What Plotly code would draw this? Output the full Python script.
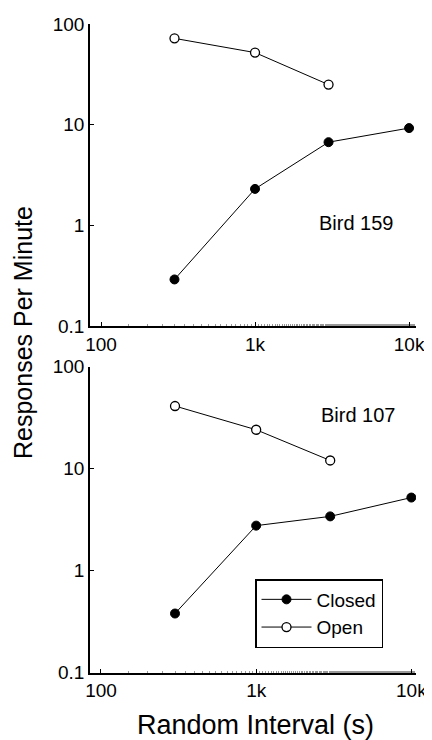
import plotly.graph_objects as go

intervals = [300, 1000, 3000, 10000]
open_intervals = [300, 1000, 3000]

bird159_closed = [0.29, 2.3, 6.7, 9.25]
bird159_open = [72, 52, 25]
bird107_closed = [0.38, 2.76, 3.4, 5.2]
bird107_open = [41, 24, 12]

x_ticks = [100, 1000, 10000]
x_ticklabels = ["100", "1k", "10k"]
y_ticks = [0.1, 1, 10, 100]
y_ticklabels = ["0.1", "1", "10", "100"]

FONT = "Liberation Sans, Arial, sans-serif"
W, H = 432, 740
OFF = 8  # page offset of the figure inside the browser window
L, R, T, B = 90 - OFF, W - (416 - OFF), 0, 0

fig = go.Figure()

closed_style = dict(mode="lines+markers", line=dict(color="black", width=1),
                    marker=dict(symbol="circle", size=9, color="black",
                                line=dict(color="black", width=1)))
open_style = dict(mode="lines+markers", line=dict(color="black", width=1),
                  marker=dict(symbol="circle", size=9, color="white",
                              line=dict(color="black", width=1.3)))

fig.add_trace(go.Scatter(x=intervals, y=bird159_closed, name="Closed",
                         showlegend=False, xaxis="x", yaxis="y", **closed_style))
fig.add_trace(go.Scatter(x=open_intervals, y=bird159_open, name="Open",
                         showlegend=False, xaxis="x", yaxis="y", **open_style))
fig.add_trace(go.Scatter(x=intervals, y=bird107_closed, name="Closed",
                         showlegend=True, xaxis="x2", yaxis="y2", **closed_style))
fig.add_trace(go.Scatter(x=open_intervals, y=bird107_open, name="Open",
                         showlegend=True, xaxis="x2", yaxis="y2", **open_style))

def xaxis(rng, anchor):
    return dict(type="log", range=rng, domain=[0, 1], anchor=anchor,
                tickvals=x_ticks, ticktext=x_ticklabels, automargin=False,
                ticks="inside", ticklen=4, tickwidth=1, tickcolor="black",
                showline=True, linecolor="black", linewidth=1.5,
                showgrid=False, zeroline=False,
                minor=dict(ticks="inside", ticklen=2, tickcolor="#999", tickwidth=1),
                tickfont=dict(family=FONT, size=19, color="black"))

def yaxis(dom, anchor):
    return dict(type="log", range=[-1, 2], domain=dom, anchor=anchor,
                tickvals=y_ticks, ticktext=y_ticklabels, automargin=False,
                ticks="inside", ticklen=4, tickwidth=1, tickcolor="black",
                showline=True, linecolor="black", linewidth=1.5,
                showgrid=False, zeroline=False,
                tickfont=dict(family=FONT, size=19, color="black"))

def px(x, y):
    # reference-window pixels -> paper fractions
    return ((x - OFF) - L) / (W - L - R), 1 - ((y - OFF) - T) / (H - T - B)

def ann(text, x, y, size, angle=0):
    ax, ay = px(x, y)
    return dict(text=text, x=ax, y=ay, xref="paper", yref="paper",
                xanchor="center", yanchor="middle", textangle=angle,
                borderpad=0,
                showarrow=False, font=dict(family=FONT, size=size, color="black"))

lx, ly = px(255, 579)

fig.update_layout(
    template="none",
    width=W, height=H,
    margin=dict(l=L, r=R, t=T, b=B, autoexpand=False),
    paper_bgcolor="white", plot_bgcolor="white",
    xaxis=xaxis([1.9286, 4.045], "y"),
    yaxis=yaxis([px(0, 326)[1], px(0, 24)[1]], "x"),
    xaxis2=xaxis([1.9293, 4.03], "y2"),
    yaxis2=yaxis([px(0, 672.7)[1], px(0, 366.5)[1]], "x2"),
    showlegend=True,
    legend=dict(x=lx, y=ly, xref="paper", yref="paper",
                xanchor="left", yanchor="top",
                bordercolor="black", borderwidth=1.5, bgcolor="white",
                font=dict(family=FONT, size=19, color="black"),
                tracegroupgap=0, itemwidth=50),
    annotations=[
        ann("Bird 159", 356, 223, 20),
        ann("Bird 107", 358, 415, 20),
        ann("Responses Per Minute", 23, 333, 25, -90),
        ann("Random Interval (s)", 256, 725, 27),
    ],
)

fig.write_html("out.html")
